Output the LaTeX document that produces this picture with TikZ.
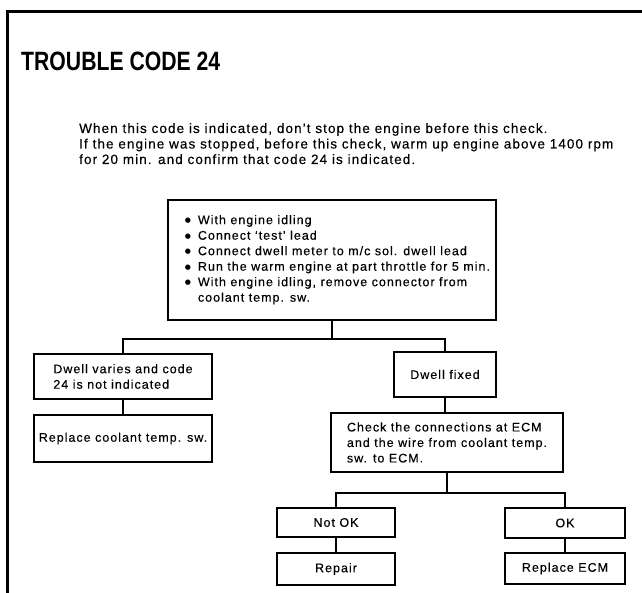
\documentclass[tikz,border=0pt]{standalone}
\usepackage{fontspec}
\setmainfont{Liberation Sans}
\newfontfamily\titlefont{Liberation Sans Bold}[FakeStretch=0.8]
\newfontfamily\notefont{Liberation Sans}[LetterSpace=8, FakeBold=0.3]
\newfontfamily\dotfont{DejaVu Sans}
\newcommand\boxtext{\notefont\fontsize{12.5}{15.5}\selectfont}
\newcommand\paratext{\notefont\fontsize{13.5}{15}\selectfont}
\newcommand\dotmark{\raisebox{1.6pt}{\dotfont\fontsize{7}{7}\selectfont ●}}
\begin{document}
\begin{tikzpicture}[x=1pt, y=-1pt,
  box/.style={draw, line width=1.7pt, inner sep=0pt, font=\boxtext},
  link/.style={line width=1.7pt},
  frame/.style={line width=3pt},
  para/.style={anchor=base west, inner sep=0pt, font=\paratext}]
\useasboundingbox (0,0) rectangle (642,593);

% page frame
\draw[frame] (7,593) -- (7,12) -- (642,12);

% heading and notes
\node[anchor=base west, inner sep=0pt, font=\titlefont\fontsize{26.5}{30}\selectfont] (title) at (21,70.5) {TROUBLE CODE 24};
\node[para] (note1) at (79,133) {When this code is indicated, don’t stop the engine before this check.};
\node[para] (note2) at (79,148.5) {If the engine was stopped, before this check, warm up engine above 1400 rpm};
\node[para] (note3) at (79,164) {for 20 min. and confirm that code 24 is indicated.};

% first check
\node[box, anchor=north west, minimum height=120pt, inner xsep=17pt] (start) at (167,199)
  {\makebox[294pt][l]{\begin{tabular}{@{}l@{\hspace{7pt}}l@{}}
   \dotmark & With engine idling\\
   \dotmark & Connect ‘test’ lead\\
   \dotmark & Connect dwell meter to m/c sol. dwell lead\\
   \dotmark & Run the warm engine at part throttle for 5 min.\\
   \dotmark & With engine idling, remove connector from\\
               & coolant temp. sw.
  \end{tabular}}};

% left branch
\node[box, minimum width=178pt, minimum height=45pt, align=left] (varies) at (123,376.5)
  {Dwell varies and code\\24 is not indicated};
\node[box, minimum width=178pt, minimum height=47pt] (coolant) at (123,438.5)
  {Replace coolant temp. sw.};

% right branch
\node[box, minimum width=102pt, minimum height=45pt] (fixed) at (445,374.5) {Dwell fixed};
\node[box, minimum width=232pt, minimum height=59pt, align=left] (check) at (447,442.5)
  {Check the connections at ECM\\and the wire from coolant temp.\\sw. to ECM.};
\node[box, minimum width=118pt, minimum height=29pt] (notok) at (336,522.5) {Not OK};
\node[box, minimum width=118pt, minimum height=32pt] (repair) at (336,569) {Repair};
\node[box, minimum width=120pt, minimum height=30pt] (ok) at (565,523) {OK};
\node[box, minimum width=120pt, minimum height=31pt] (ecm) at (565,568.5) {Replace ECM};

% connectors
\coordinate (split1) at (331,339);
\coordinate (split2) at (447,493);
\draw[link] (start.south) -- (start.south |- split1);
\draw[link] (varies.north) -- (varies.north |- split1) -- (fixed.north |- split1) -- (fixed.north);
\draw[link] (varies.south) -- (coolant.north);
\draw[link] (fixed.south) -- (fixed.south |- check.north);
\draw[link] (check.south) -- (check.south |- split2);
\draw[link] (notok.north) -- (notok.north |- split2) -- (ok.north |- split2) -- (ok.north);
\draw[link] (notok.south) -- (repair.north);
\draw[link] (ok.south) -- (ecm.north);
\end{tikzpicture}
\end{document}
